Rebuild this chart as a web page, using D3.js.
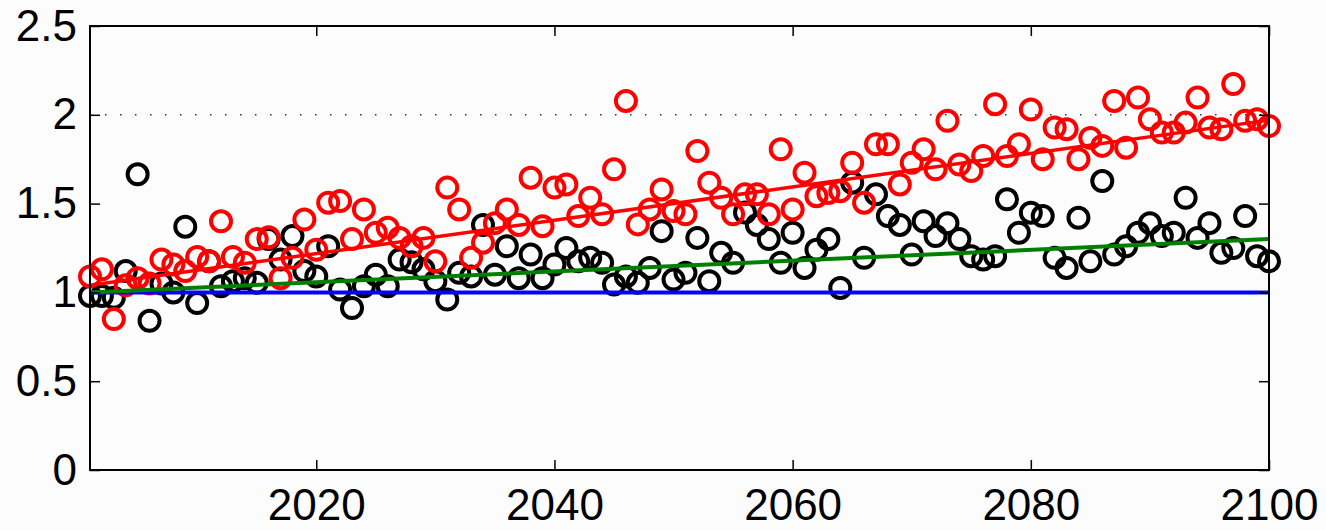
<!DOCTYPE html>
<html>
<head>
<meta charset="utf-8">
<script src="https://cdn.jsdelivr.net/npm/d3@7"></script>
<style>
  html, body { margin: 0; padding: 0; background: #fcfcfc; }
  svg { display: block; }
  .tick text { font-family: "Liberation Sans", Arial, Helvetica, sans-serif; }
</style>
</head>
<body>
<svg id="chart" width="1326" height="530"></svg>
<script>
// Years covered by the annual series
const years = d3.range(2001, 2101);

// Annual ratios, one value per year (black markers)
const seriesBlack = [
  0.98, 0.98, 0.97, 1.12, 1.665, 0.84, 1.05, 1.00, 1.37, 0.94,
  1.175, 1.035, 1.063, 1.08, 1.054, 1.30, 1.185, 1.317, 1.12, 1.09,
  1.26, 1.016, 0.912, 1.035, 1.10, 1.035, 1.185, 1.17, 1.13, 1.063,
  0.96, 1.11, 1.09, 1.38, 1.10, 1.26, 1.08, 1.213, 1.08, 1.157,
  1.25, 1.175, 1.195, 1.167, 1.044, 1.09, 1.054, 1.138, 1.345, 1.072,
  1.11, 1.307, 1.063, 1.223, 1.167, 1.45, 1.38, 1.30, 1.167, 1.336,
  1.138, 1.24, 1.30, 1.025, 1.618, 1.195, 1.552, 1.43, 1.38, 1.213,
  1.40, 1.317, 1.39, 1.30, 1.204, 1.185, 1.204, 1.524, 1.336, 1.449,
  1.43, 1.195, 1.138, 1.42, 1.175, 1.627, 1.213, 1.26, 1.336, 1.39,
  1.317, 1.336, 1.533, 1.307, 1.39, 1.223, 1.25, 1.43, 1.204, 1.175
];

// Annual ratios, one value per year (red markers)
const seriesRed = [
  1.09, 1.13, 0.85, 1.04, 1.08, 1.05, 1.185, 1.157, 1.12, 1.20,
  1.175, 1.40, 1.20, 1.167, 1.30, 1.31, 1.08, 1.195, 1.41, 1.24,
  1.505, 1.514, 1.30, 1.467, 1.336, 1.364, 1.307, 1.26, 1.307, 1.175,
  1.59, 1.467, 1.195, 1.28, 1.39, 1.467, 1.38, 1.646, 1.373, 1.59,
  1.608, 1.43, 1.533, 1.44, 1.693, 2.078, 1.383, 1.467, 1.58, 1.458,
  1.44, 1.796, 1.618, 1.533, 1.44, 1.552, 1.552, 1.44, 1.806, 1.467,
  1.674, 1.542, 1.56, 1.57, 1.73, 1.505, 1.834, 1.834, 1.608, 1.73,
  1.806, 1.693, 1.966, 1.72, 1.683, 1.768, 2.06, 1.768, 1.834, 2.03,
  1.75, 1.928, 1.919, 1.75, 1.87, 1.825, 2.078, 1.815, 2.097, 1.975,
  1.90, 1.90, 1.956, 2.097, 1.928, 1.919, 2.173, 1.966, 1.975, 1.937
];

// Straight reference lines: start and end year with their values
const lineYears = [2001, 2100];
const trendRed = [1.04, 1.97];
const trendGreen = [1.00, 1.30];
const baseline = [1.00, 1.00];
const thresholdLevel = 2;

// Axis ticks
const xTicks = [2020, 2040, 2060, 2080, 2100];
const yTicks = [0, 0.5, 1, 1.5, 2, 2.5];

const svg = d3.select("#chart");
const plotLeft = 90, plotRight = 1269, plotTop = 26, plotBottom = 470;

const x = d3.scaleLinear().domain([2001, 2100]).range([plotLeft, plotRight]);
const y = d3.scaleLinear().domain([0, 2.5]).range([plotBottom, plotTop]);

const plot = svg.append("g");

// dotted level line
plot.append("line")
  .attr("x1", x(2001)).attr("x2", x(2100))
  .attr("y1", y(thresholdLevel)).attr("y2", y(thresholdLevel))
  .attr("stroke", "#333").attr("stroke-width", 1.5)
  .attr("stroke-dasharray", "1.5,13.5");

// markers
const circleR = 10, circleW = 4;
plot.append("g").selectAll("circle")
  .data(years.map((yr, i) => ({ yr, v: seriesBlack[i] })))
  .join("circle")
  .attr("cx", d => x(d.yr)).attr("cy", d => y(d.v)).attr("r", circleR)
  .attr("fill", "none").attr("stroke", "#000").attr("stroke-width", circleW);

plot.append("g").selectAll("circle")
  .data(years.map((yr, i) => ({ yr, v: seriesRed[i] })))
  .join("circle")
  .attr("cx", d => x(d.yr)).attr("cy", d => y(d.v)).attr("r", circleR)
  .attr("fill", "none").attr("stroke", "#ff0000").attr("stroke-width", circleW);

// straight lines
const line = d3.line().x(d => x(d[0])).y(d => y(d[1]));
[[baseline, "#0000ff", 4], [trendGreen, "#008000", 4], [trendRed, "#ff0000", 3.5]]
  .forEach(([vals, color, w]) => {
    plot.append("path")
      .attr("d", line(lineYears.map((yr, i) => [yr, vals[i]])))
      .attr("fill", "none").attr("stroke", color).attr("stroke-width", w);
  });

// axes, ticks pointing inward on all four sides
const fontSize = 44;
const styleAxis = g => {
  g.select(".domain").remove();
  g.selectAll(".tick line").attr("stroke", "#000").attr("stroke-width", 1.5);
  g.selectAll(".tick text").attr("fill", "#000").attr("font-size", fontSize);
};

svg.append("g").attr("transform", `translate(0,${plotBottom})`)
  .call(d3.axisBottom(x).tickValues(xTicks).tickFormat(d3.format("d"))
    .tickSizeInner(-10).tickSizeOuter(0).tickPadding(19))
  .call(styleAxis);
svg.append("g").attr("transform", `translate(0,${plotTop})`)
  .call(d3.axisTop(x).tickValues(xTicks).tickFormat("").tickSizeInner(-10).tickSizeOuter(0))
  .call(styleAxis);
svg.append("g").attr("transform", `translate(${plotLeft},0)`)
  .call(d3.axisLeft(y).tickValues(yTicks).tickFormat(d => String(d))
    .tickSizeInner(-10).tickSizeOuter(0).tickPadding(13))
  .call(styleAxis);
svg.append("g").attr("transform", `translate(${plotRight},0)`)
  .call(d3.axisRight(y).tickValues(yTicks).tickFormat("").tickSizeInner(-10).tickSizeOuter(0))
  .call(styleAxis);

// plot frame
svg.append("rect")
  .attr("x", plotLeft).attr("y", plotTop)
  .attr("width", plotRight - plotLeft).attr("height", plotBottom - plotTop)
  .attr("fill", "none").attr("stroke", "#000").attr("stroke-width", 2);
</script>
</body>
</html>
